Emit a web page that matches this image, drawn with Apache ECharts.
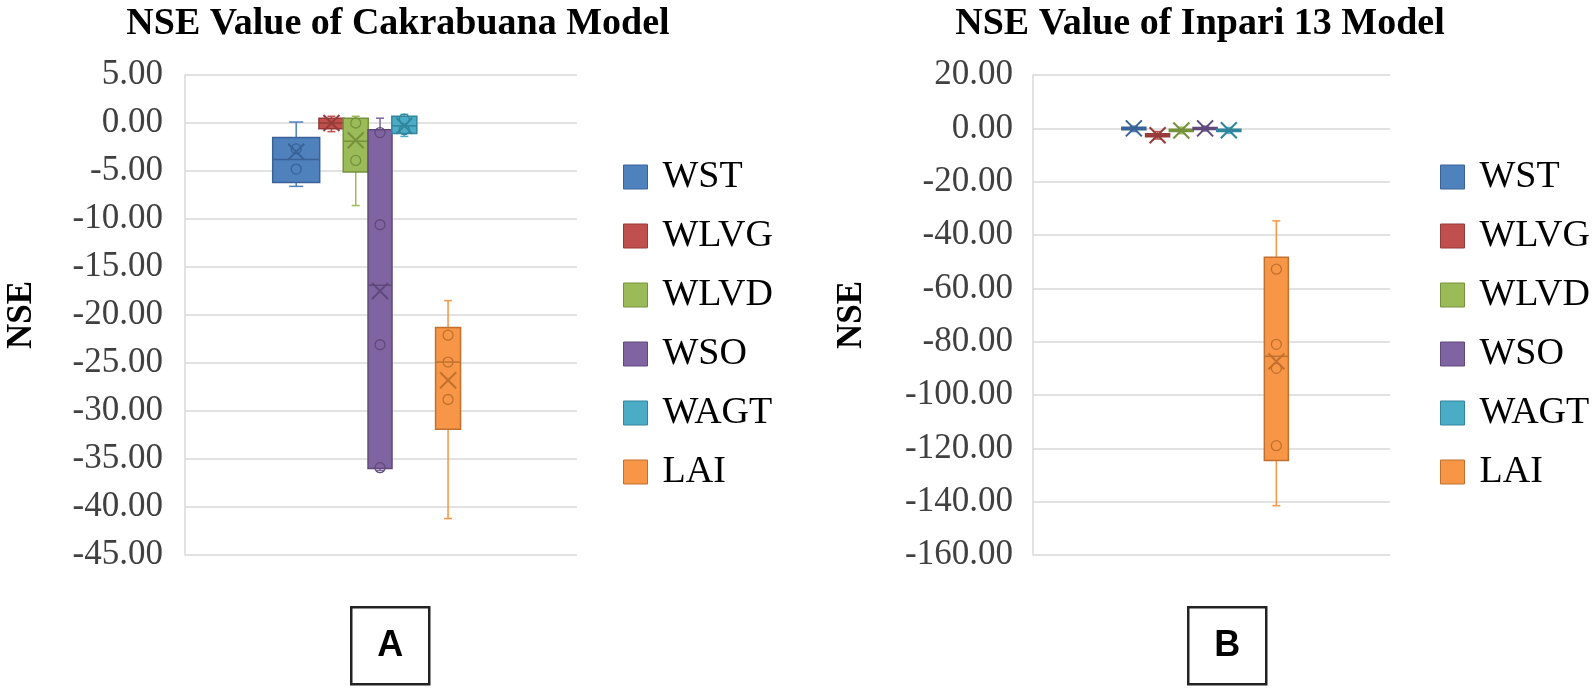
<!DOCTYPE html>
<html>
<head>
<meta charset="utf-8">
<title>NSE Value</title>
<script src="https://cdn.jsdelivr.net/npm/echarts@6/dist/echarts.min.js"></script>
<style>
  html, body { margin: 0; padding: 0; background: #fff; }
  #main { width: 1595px; height: 695px; }
</style>
</head>
<body>
<div id="main"></div>
<script>
// data
var seriesNames = ['WST', 'WLVG', 'WLVD', 'WSO', 'WAGT', 'LAI'];
var categories = [''];
var cakraTicks = { min: -45, max: 5, step: 5 };
var inpariTicks = { min: -160, max: 20, step: 20 };

// Cakrabuana model: five-number summary split per statistic
var cakraMin    = [-6.6, -0.9, -8.6, -36.2, -1.4, -41.2];
var cakraQ1     = [-6.2, -0.6, -5.1, -36.0, -1.1, -31.9];
var cakraMedian = [-3.8,  0.0, -1.9, -16.9, -0.3, -24.9];
var cakraQ3     = [-1.5,  0.5,  0.5,  -0.7,  0.7, -21.3];
var cakraMax    = [ 0.1,  0.7,  0.7,   0.5,  0.9, -18.5];
var cakraMean   = [-3.0,  0.0, -1.8, -17.5, -0.3, -26.8];
var cakraPoints = [[-2.7, -4.8], [], [0.0, -3.9], [-1.0, -10.6, -23.1, -35.9], [0.4, -0.7], [-22.1, -24.9, -28.8]];

// Inpari 13 model
var inpariMin    = [-1.2, -4.0, -2.0, -1.0, -1.8, -141.5];
var inpariQ1     = [-0.5, -3.2, -1.2, -0.4, -1.2, -124.6];
var inpariMedian = [ 0.0, -2.6, -0.8,  0.0, -0.7,  -85.5];
var inpariQ3     = [ 0.4, -2.0, -0.3,  0.3, -0.3,  -48.3];
var inpariMax    = [ 0.8, -1.2,  0.4,  0.8,  0.3,  -34.7];
var inpariMean   = [ 0.0, -2.6, -0.8,  0.0, -0.7,  -87.4];
var inpariPoints = [[], [], [], [], [], [-52.8, -81.0, -90.0, -119.0]];

// styles
var colors = ['#4F81BD', '#C0504D', '#9BBB59', '#8064A2', '#4BACC6', '#F79646'];
var edges  = ['#3A6296', '#953B39', '#76923C', '#5F4A7B', '#31859C', '#C0712F'];
var serif = 'Liberation Serif, Times New Roman, serif';

// box placement inside the single category band
var layoutA = { slots: [-0.45, 1, 2, 3, 4, 5.8], center: 3.04, step: 24.3 / 392, widths: [47, 25, 25, 24, 25, 25] };
var layoutB = { slots: [0, 1, 2, 3, 4, 6], center: 3.27, step: 23.75 / 357, widths: [24, 24, 24, 24, 24, 24] };

function slotX(api, layout, idx) {
    var band = api.size([1, 0])[0];
    var cx = api.coord([0, 0])[0];
    return cx + (layout.slots[idx] - layout.center) * band * layout.step;
}

function boxRenderer(layout, idx) {
    return function (params, api) {
        var x = slotX(api, layout, idx);
        var y = function (d) { return api.coord([0, api.value(d)])[1]; };
        var yMin = y(1), yQ1 = y(2), yMed = y(3), yQ3 = y(4), yMax = y(5), yMean = y(6);
        var hw = layout.widths[idx] / 2;
        var cap = Math.max(4, hw * 0.3);
        var m = 8;
        var wl = { stroke: colors[idx], lineWidth: 1.5 };
        var el = { stroke: edges[idx], lineWidth: 1.5 };
        var xl = { stroke: edges[idx], lineWidth: 2 };
        return {
            type: 'group',
            children: [
                { type: 'line', shape: { x1: x, y1: yMax, x2: x, y2: yQ3 }, style: wl },
                { type: 'line', shape: { x1: x, y1: yQ1, x2: x, y2: yMin }, style: wl },
                { type: 'line', shape: { x1: x - cap, y1: yMax, x2: x + cap, y2: yMax }, style: wl },
                { type: 'line', shape: { x1: x - cap, y1: yMin, x2: x + cap, y2: yMin }, style: wl },
                { type: 'rect', shape: { x: x - hw, y: yQ3, width: hw * 2, height: Math.max(yQ1 - yQ3, 2) },
                  style: { fill: colors[idx], stroke: edges[idx], lineWidth: 1.5 } },
                { type: 'line', shape: { x1: x - hw, y1: yMed, x2: x + hw, y2: yMed }, style: el },
                { type: 'line', shape: { x1: x - m, y1: yMean - m, x2: x + m, y2: yMean + m }, style: xl },
                { type: 'line', shape: { x1: x - m, y1: yMean + m, x2: x + m, y2: yMean - m }, style: xl }
            ]
        };
    };
}

function pointRenderer(layout, idx) {
    return function (params, api) {
        var x = slotX(api, layout, idx);
        var yy = api.coord([0, api.value(1)])[1];
        return {
            type: 'circle',
            shape: { cx: x, cy: yy, r: 5 },
            style: { fill: 'none', stroke: edges[idx], lineWidth: 1.3 }
        };
    };
}

function buildSeries(axisIndex, layout, mins, q1s, meds, q3s, maxs, means, points) {
    var list = [];
    seriesNames.forEach(function (name, i) {
        list.push({
            name: name,
            type: 'custom',
            xAxisIndex: axisIndex,
            yAxisIndex: axisIndex,
            itemStyle: { color: colors[i] },
            encode: { x: 0, y: [1, 2, 3, 4, 5, 6] },
            renderItem: boxRenderer(layout, i),
            data: [[0, mins[i], q1s[i], meds[i], q3s[i], maxs[i], means[i]]],
            z: 2
        });
        if (points[i].length) {
            list.push({
                name: name,
                type: 'custom',
                xAxisIndex: axisIndex,
                yAxisIndex: axisIndex,
                itemStyle: { color: colors[i] },
                encode: { x: 0, y: 1 },
                renderItem: pointRenderer(layout, i),
                data: points[i].map(function (p) { return [0, p]; }),
                z: 3
            });
        }
    });
    return list;
}

function yAxisFor(gridIndex, ticks, nameGap, margin) {
    return {
        gridIndex: gridIndex,
        type: 'value',
        min: ticks.min,
        max: ticks.max,
        interval: ticks.step,
        name: 'NSE',
        nameLocation: 'middle',
        nameGap: nameGap,
        nameRotate: 90,
        nameTextStyle: { fontFamily: serif, fontWeight: 'bold', fontSize: 35, color: '#000' },
        axisLine: { show: true, lineStyle: { color: '#D9D9D9', width: 1.5 } },
        axisTick: { show: false },
        splitLine: { lineStyle: { color: '#D9D9D9', width: 1.5 } },
        axisLabel: {
            margin: margin,
            fontFamily: serif,
            fontSize: 35,
            color: '#404040',
            formatter: function (v) { return v.toFixed(2); }
        }
    };
}

function xAxisFor(gridIndex) {
    return {
        gridIndex: gridIndex,
        type: 'category',
        data: categories,
        axisLine: { show: false },
        axisTick: { show: false },
        axisLabel: { show: false },
        splitLine: { show: false }
    };
}

function legendFor(left) {
    return {
        orient: 'vertical',
        left: left,
        top: 153,
        itemWidth: 24,
        itemHeight: 24,
        itemGap: 21,
        icon: 'rect',
        selectedMode: false,
        textStyle: { fontFamily: serif, fontSize: 38, color: '#000', padding: [0, 0, 0, 10] },
        data: seriesNames.map(function (n, i) {
            return { name: n, itemStyle: { color: colors[i], borderColor: edges[i], borderWidth: 1 } };
        })
    };
}

function panelLabel(cx, label) {
    return {
        type: 'group',
        left: cx - 39,
        top: 606,
        children: [
            { type: 'rect', shape: { x: 0, y: 0, width: 78, height: 77 },
              style: { fill: '#fff', stroke: '#222', lineWidth: 2.5 } },
            { type: 'text', x: 39, y: 39,
              style: { text: label, fontFamily: 'Liberation Sans, Arial, sans-serif', fontWeight: 'bold',
                       fontSize: 36, fill: '#000', align: 'center', verticalAlign: 'middle' } }
        ]
    };
}

var myChart = echarts.init(document.getElementById('main'));

var option = {
    animation: false,
    backgroundColor: '#fff',
    title: [
        { text: 'NSE Value of Cakrabuana Model', left: 393, top: 0, textAlign: 'center',
          textStyle: { fontFamily: serif, fontWeight: 'bold', fontSize: 38, color: '#000' } },
        { text: 'NSE Value of Inpari 13 Model', left: 1195, top: 0, textAlign: 'center',
          textStyle: { fontFamily: serif, fontWeight: 'bold', fontSize: 38, color: '#000' } }
    ],
    legend: [legendFor(618), legendFor(1435)],
    grid: [
        { left: 185, top: 75, width: 392, height: 480 },
        { left: 1033, top: 75, width: 357, height: 480 }
    ],
    xAxis: [xAxisFor(0), xAxisFor(1)],
    yAxis: [yAxisFor(0, cakraTicks, 146, 22), yAxisFor(1, inpariTicks, 164, 20)],
    graphic: [panelLabel(389, 'A'), panelLabel(1226, 'B')],
    series: buildSeries(0, layoutA, cakraMin, cakraQ1, cakraMedian, cakraQ3, cakraMax, cakraMean, cakraPoints)
        .concat(buildSeries(1, layoutB, inpariMin, inpariQ1, inpariMedian, inpariQ3, inpariMax, inpariMean, inpariPoints))
};

myChart.setOption(option);
</script>
</body>
</html>
